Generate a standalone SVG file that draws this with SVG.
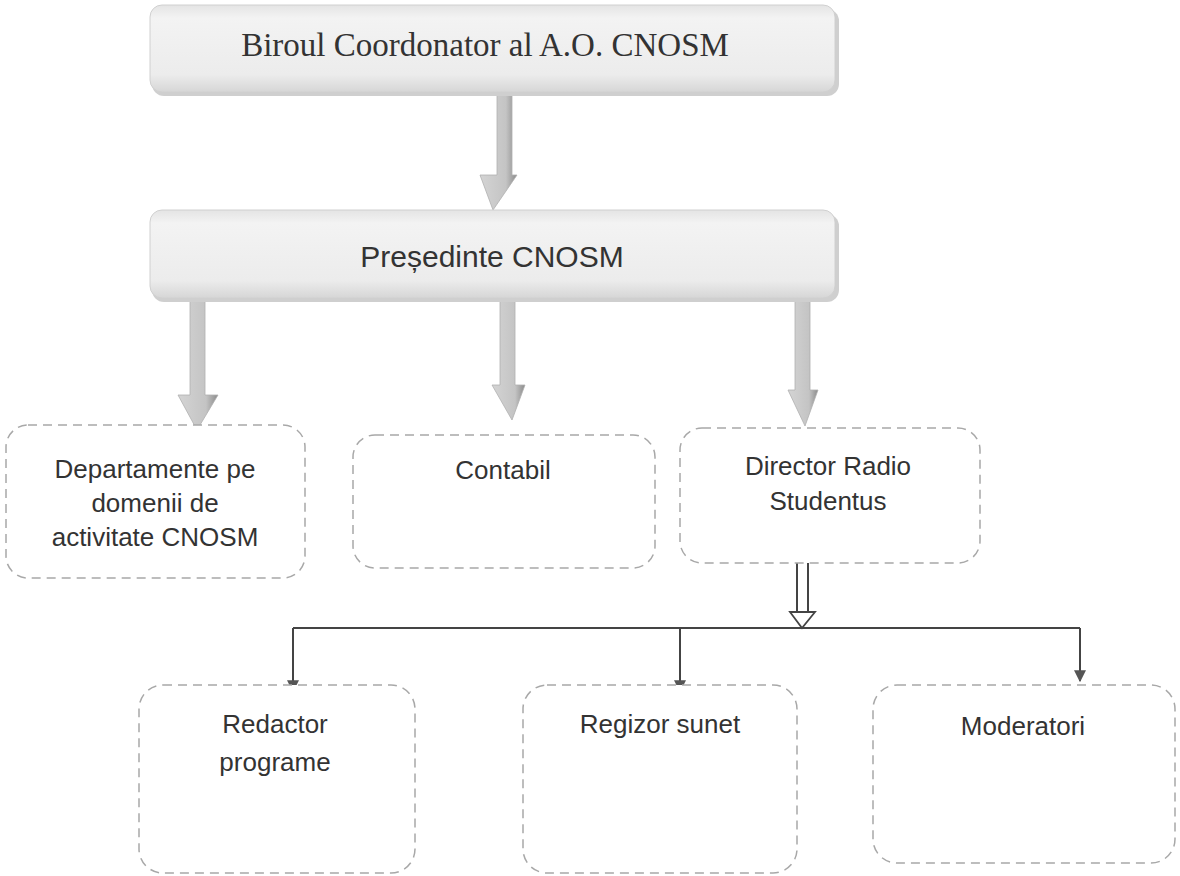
<svg xmlns="http://www.w3.org/2000/svg" width="1180" height="876" viewBox="0 0 1180 876">
<defs>
<linearGradient id="bar" x1="0" y1="0" x2="0" y2="1">
<stop offset="0" stop-color="#e4e4e4"/>
<stop offset="0.15" stop-color="#f3f3f3"/>
<stop offset="0.8" stop-color="#ececec"/>
<stop offset="1" stop-color="#d6d6d6"/>
</linearGradient>
<linearGradient id="arr" x1="0" y1="0" x2="1" y2="0">
<stop offset="0" stop-color="#d4d4d4"/>
<stop offset="0.7" stop-color="#c4c4c4"/>
<stop offset="1" stop-color="#8a8a8a"/>
</linearGradient>
<marker id="tri" viewBox="0 0 10 10" refX="9" refY="5" markerWidth="6" markerHeight="6" orient="auto" markerUnits="strokeWidth">
<path d="M0,0 L10,5 L0,10 z" fill="#555"/>
</marker>
</defs>
<style>
.bar{fill:url(#bar);stroke:#d0d0d0;stroke-width:1}
.shadow{fill:#cfcfcf}
.box{fill:#fff;stroke:#a8a8a8;stroke-width:1.5;stroke-dasharray:9 6}
.serif{font-family:"Liberation Serif","Times New Roman",serif;fill:#333}
.sans{font-family:"Liberation Sans",Arial,sans-serif;fill:#333;text-anchor:middle}
.bigarrow{fill:url(#arr);stroke:#b0b0b0;stroke-width:0.8}
.line{stroke:#444;stroke-width:2;fill:none}
</style>
<rect width="1180" height="876" fill="#fff"/>

<g id="connectors">
<polygon class="bigarrow" points="497,92 512,92 512,175 517,175 493,210 480,175 497,175"/>
<polygon class="bigarrow" points="190,298 205,298 205,395 218,395 197,430 178,395 190,395"/>
<polygon class="bigarrow" points="500,298 515,298 515,385 525,385 512,420 492,385 500,385"/>
<polygon class="bigarrow" points="795,298 810,298 810,390 818,390 805,426 788,390 795,390"/>
<line class="line" x1="797" y1="563" x2="797" y2="614" stroke-width="1.8"/>
<line class="line" x1="808" y1="563" x2="808" y2="614" stroke-width="1.8"/>
<polygon points="790,612 815,612 802,628" fill="#fff" stroke="#444" stroke-width="1.8"/>
<line class="line" x1="293" y1="628" x2="1080" y2="628"/>
<line class="line" x1="293" y1="628" x2="293" y2="691" marker-end="url(#tri)"/>
<line class="line" x1="680" y1="628" x2="680" y2="691" marker-end="url(#tri)"/>
<line class="line" x1="1080" y1="628" x2="1080" y2="681" marker-end="url(#tri)" stroke-width="2.5"/>
</g>

<g id="n-biroul">
<rect class="shadow" x="152" y="9" width="687" height="87" rx="12"/>
<rect class="bar" x="150" y="5" width="685" height="87" rx="12"/>
<text class="serif" x="485" y="56" font-size="33" text-anchor="middle">Biroul Coordonator al A.O. CNOSM</text>
</g>

<g id="n-presedinte">
<rect class="shadow" x="152" y="214" width="687" height="88" rx="12"/>
<rect class="bar" x="150" y="210" width="685" height="88" rx="12"/>
<text class="sans" x="492" y="267" font-size="30">Președinte CNOSM</text>
</g>

<g id="n-departamente">
<rect class="box" x="6" y="425" width="299" height="153" rx="22"/>
<text class="sans" x="155" y="478" font-size="26">Departamente pe</text>
<text class="sans" x="155" y="512" font-size="26">domenii de</text>
<text class="sans" x="155" y="546" font-size="26">activitate CNOSM</text>
</g>

<g id="n-contabil">
<rect class="box" x="353" y="435" width="302" height="133" rx="22"/>
<text class="sans" x="503" y="479" font-size="26">Contabil</text>
</g>

<g id="n-director">
<rect class="box" x="680" y="428" width="300" height="135" rx="22"/>
<text class="sans" x="828" y="475" font-size="26">Director Radio</text>
<text class="sans" x="828" y="510" font-size="26">Studentus</text>
</g>

<g id="n-redactor">
<rect class="box" x="139" y="685" width="276" height="188" rx="24"/>
<text class="sans" x="275" y="733" font-size="26">Redactor</text>
<text class="sans" x="275" y="771" font-size="26">programe</text>
</g>

<g id="n-regizor">
<rect class="box" x="523" y="685" width="274" height="188" rx="24"/>
<text class="sans" x="660" y="733" font-size="26">Regizor sunet</text>
</g>

<g id="n-moderatori">
<rect class="box" x="873" y="685" width="302" height="178" rx="24"/>
<text class="sans" x="1023" y="735" font-size="26">Moderatori</text>
</g>
</svg>
